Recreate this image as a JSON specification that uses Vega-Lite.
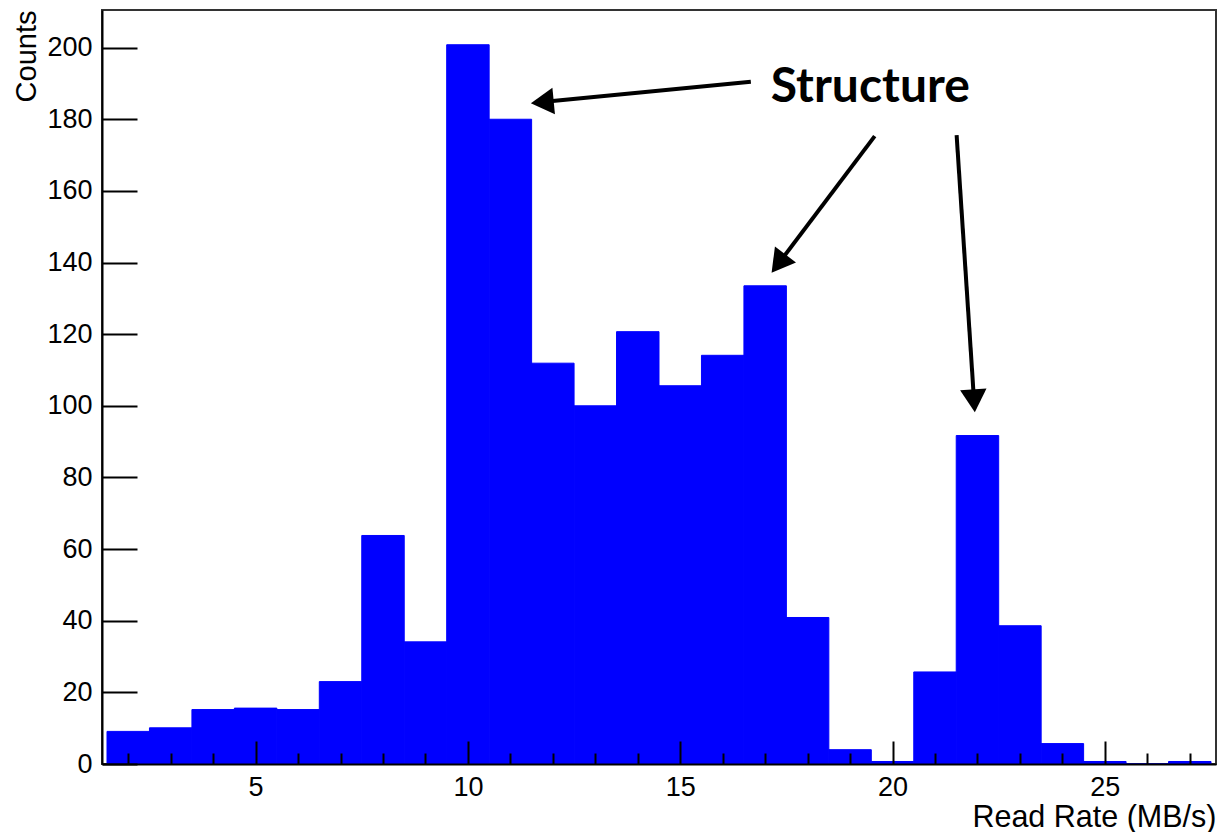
{
  "$schema": "https://vega.github.io/schema/vega-lite/v6.json",
  "width": 1114,
  "height": 754,
  "autosize": {"type": "none"},
  "padding": {"left": 102, "top": 10, "right": 4, "bottom": 68},
  "background": "white",
  "config": {
    "view": {"stroke": "#333333", "strokeWidth": 2},
    "font": "Liberation Sans"
  },
  "datasets": {
    "bins": [
      {"lo": 1.5, "hi": 2.5, "count": 9.1},
      {"lo": 2.5, "hi": 3.5, "count": 10.1},
      {"lo": 3.5, "hi": 4.5, "count": 15.2},
      {"lo": 4.5, "hi": 5.5, "count": 15.6},
      {"lo": 5.5, "hi": 6.5, "count": 15.2},
      {"lo": 6.5, "hi": 7.5, "count": 23.0},
      {"lo": 7.5, "hi": 8.5, "count": 63.8},
      {"lo": 8.5, "hi": 9.5, "count": 34.1},
      {"lo": 9.5, "hi": 10.5, "count": 200.8},
      {"lo": 10.5, "hi": 11.5, "count": 180.0},
      {"lo": 11.5, "hi": 12.5, "count": 111.9},
      {"lo": 12.5, "hi": 13.5, "count": 100.0},
      {"lo": 13.5, "hi": 14.5, "count": 120.7},
      {"lo": 14.5, "hi": 15.5, "count": 105.6},
      {"lo": 15.5, "hi": 16.5, "count": 114.1},
      {"lo": 16.5, "hi": 17.5, "count": 133.5},
      {"lo": 17.5, "hi": 18.5, "count": 40.9},
      {"lo": 18.5, "hi": 19.5, "count": 4.0},
      {"lo": 19.5, "hi": 20.5, "count": 0.7},
      {"lo": 20.5, "hi": 21.5, "count": 25.7},
      {"lo": 21.5, "hi": 22.5, "count": 91.7},
      {"lo": 22.5, "hi": 23.5, "count": 38.6},
      {"lo": 23.5, "hi": 24.5, "count": 5.7},
      {"lo": 24.5, "hi": 25.5, "count": 0.7},
      {"lo": 25.5, "hi": 26.5, "count": 0},
      {"lo": 26.5, "hi": 27.5, "count": 0.7}
    ],
    "arrows": [
      {"id": 1, "x": 16.663, "y": 190.5, "hx": 11.751, "hy": 184.8},
      {"id": 2, "x": 19.581, "y": 175.3, "hx": 17.315, "hy": 139.7},
      {"id": 3, "x": 21.509, "y": 175.6, "hx": 21.92, "hy": 101.4}
    ],
    "label": [
      {"text": "Structure", "x": 19.476, "y": 184.9}
    ]
  },
  "layer": [
    {
      "data": {"name": "bins"},
      "mark": {"type": "bar", "orient": "vertical", "color": "#0000ff", "stroke": "#0000ff", "strokeWidth": 1},
      "encoding": {
        "x": {
          "field": "lo", "type": "quantitative",
          "scale": {"domain": [1.5, 27.5], "nice": false, "zero": false},
          "axis": {
            "title": "Read Rate (MB/s)",
            "zindex": 1,
            "values": [2,3,4,5,6,7,8,9,10,11,12,13,14,15,16,17,18,19,20,21,22,23,24,25,26,27],
            "labelExpr": "datum.value % 5 === 0 ? datum.label : ''",
            "grid": false,
            "ticks": true,
            "tickSize": {"condition": {"test": "datum.value % 5 === 0", "value": -23}, "value": -11},
            "tickColor": "black",
            "tickWidth": 2,
            "domainColor": "black",
            "domainWidth": 2,
            "labelFont": "Liberation Sans",
            "labelFontSize": 27,
            "labelColor": "black",
            "labelPadding": 33,
            "labelOverlap": false,
            "labelFlush": false,
            "titleFont": "Liberation Sans",
            "titleFontSize": 30.5,
            "titleFontWeight": "normal",
            "titleColor": "black",
            "titleAnchor": "end",
            "titleAlign": "right",
            "titleBaseline": "alphabetic",
            "titleY": 62.5
          }
        },
        "x2": {"field": "hi"},
        "y": {
          "field": "count", "type": "quantitative",
          "scale": {"domain": [0, 210.5], "nice": false, "zero": true},
          "axis": {
            "title": "Counts",
            "zindex": 1,
            "values": [0,5,10,15,20,25,30,35,40,45,50,55,60,65,70,75,80,85,90,95,100,105,110,115,120,125,130,135,140,145,150,155,160,165,170,175,180,185,190,195,200,205,210],
            "labelExpr": "datum.value % 20 === 0 ? datum.label : ''",
            "grid": false,
            "ticks": true,
            "tickSize": {"condition": {"test": "datum.value % 20 === 0", "value": -35}, "value": -17},
            "tickColor": "black",
            "tickWidth": 2,
            "domainColor": "black",
            "domainWidth": 2,
            "labelFont": "Liberation Sans",
            "labelFontSize": 27,
            "labelColor": "black",
            "labelPadding": 45,
            "labelOverlap": false,
            "labelFlush": false,
            "titleFont": "Liberation Sans",
            "titleFontSize": 29,
            "titleFontWeight": "normal",
            "titleColor": "black",
            "titleAngle": -90,
            "titleAnchor": "end",
            "titleAlign": "right",
            "titleBaseline": "alphabetic",
            "titleX": -67,
            "titleY": 0
          }
        },
        "y2": {"datum": 0}
      }
    },
    {
      "data": {"name": "arrows"},
      "mark": {"type": "rule", "color": "black", "strokeWidth": 4},
      "encoding": {
        "x": {"field": "x", "type": "quantitative"},
        "y": {"field": "y", "type": "quantitative"},
        "x2": {"field": "hx"},
        "y2": {"field": "hy"}
      }
    },
    {
      "data": {"name": "arrows"},
      "transform": [{"filter": "datum.id === 1"}],
      "mark": {"type": "point", "shape": "triangle-up", "filled": true, "color": "black", "opacity": 1, "size": 700, "angle": 264.5},
      "encoding": {
        "x": {"field": "hx", "type": "quantitative"},
        "y": {"field": "hy", "type": "quantitative"}
      }
    },
    {
      "data": {"name": "arrows"},
      "transform": [{"filter": "datum.id === 2"}],
      "mark": {"type": "point", "shape": "triangle-up", "filled": true, "color": "black", "opacity": 1, "size": 700, "angle": 217.3},
      "encoding": {
        "x": {"field": "hx", "type": "quantitative"},
        "y": {"field": "hy", "type": "quantitative"}
      }
    },
    {
      "data": {"name": "arrows"},
      "transform": [{"filter": "datum.id === 3"}],
      "mark": {"type": "point", "shape": "triangle-up", "filled": true, "color": "black", "opacity": 1, "size": 700, "angle": 176.2},
      "encoding": {
        "x": {"field": "hx", "type": "quantitative"},
        "y": {"field": "hy", "type": "quantitative"}
      }
    },
    {
      "data": {"name": "label"},
      "mark": {"type": "text", "font": "Lato", "fontWeight": "bold", "fontSize": 48, "color": "black", "align": "center", "baseline": "alphabetic"},
      "encoding": {
        "x": {"field": "x", "type": "quantitative"},
        "y": {"field": "y", "type": "quantitative"},
        "text": {"field": "text"}
      }
    }
  ]
}
